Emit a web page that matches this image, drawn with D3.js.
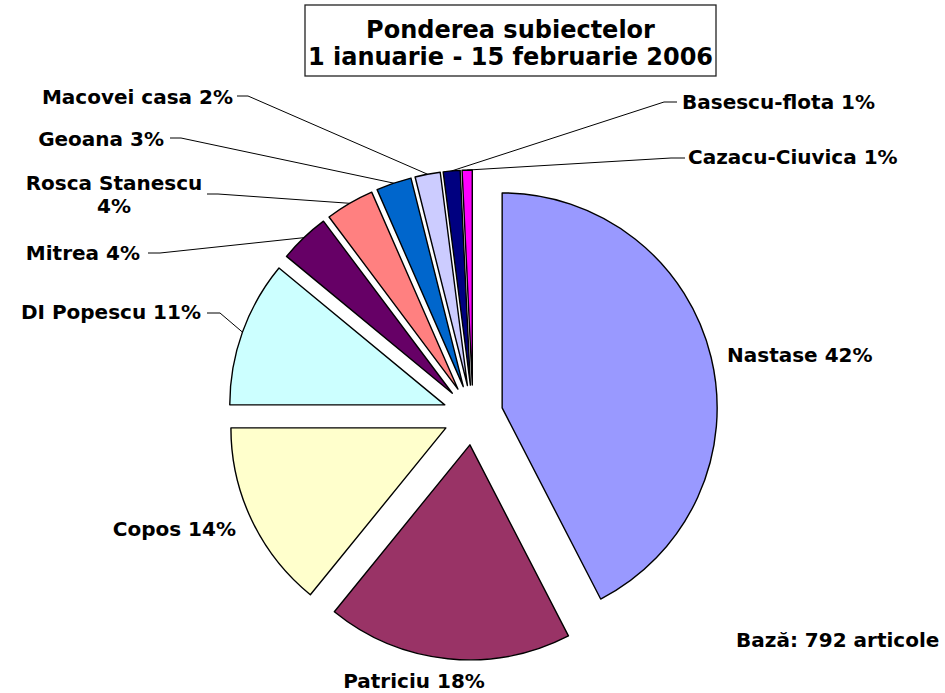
<!DOCTYPE html>
<html>
<head>
<meta charset="utf-8">
<script src="https://cdn.jsdelivr.net/npm/d3@7"></script>
<style>
  body { margin: 0; background: #fff; }
  text { font-family: "DejaVu Sans", Verdana, sans-serif; font-weight: bold; fill: #000; }
</style>
</head>
<body>
<div class="chart"></div>
<script>
// data (articles out of 792)
const names = ["Nastase", "Patriciu", "Copos", "DI Popescu", "Mitrea", "Rosca Stanescu",
               "Geoana", "Macovei casa", "Basescu-flota", "Cazacu-Ciuvica"];
const articles = [336, 146, 112, 87, 30, 29, 21, 15, 10, 6];
const colors = ["#9999FF", "#993366", "#FFFFCC", "#CCFFFF", "#660066", "#FF8080",
                "#0066CC", "#CCCCFF", "#000080", "#FF00FF"];
const titleLines = ["Ponderea subiectelor", "1 ianuarie - 15 februarie 2006"];
const baseNote = "Bază: 792 articole";

// label placement (layout, not data)
const labelLayout = [
  {x: 727, y: 362, anchor: "start"},
  {x: 414, y: 688, anchor: "middle"},
  {x: 236, y: 536, anchor: "end"},
  {x: 201, y: 319, anchor: "end", leader: [207, 313, 220]},
  {x: 140, y: 260, anchor: "end", leader: [148, 253, 160]},
  {x: 114, y: 190, anchor: "middle", wrap: true, leader: [207, 194, 218]},
  {x: 164, y: 146, anchor: "end", leader: [170, 138, 181]},
  {x: 233, y: 104, anchor: "end", leader: [237, 96, 248]},
  {x: 682, y: 109, anchor: "start", leader: [677, 102, 664]},
  {x: 688, y: 164, anchor: "start", leader: [685, 158, 671]}
];

const width = 945, height = 693;
const cx = 473, cy = 415, radius = 215, explode = 30;

const svg = d3.select(".chart").append("svg")
    .attr("width", width)
    .attr("height", height);

const total = d3.sum(articles);
const pct = d3.format(".0%");

const slices = d3.pie().sort(null).value(d => d)(articles)
    .map((d, i) => ({...d, name: names[i], color: colors[i], layout: labelLayout[i]}));

const arc = d3.arc().innerRadius(0).outerRadius(radius);
const offsetArc = d3.arc().innerRadius(explode).outerRadius(explode);
const edgeArc = d3.arc().innerRadius(radius).outerRadius(radius);

const pie = svg.append("g").attr("transform", `translate(${cx},${cy})`);

pie.selectAll("path.slice")
    .data(slices)
    .enter()
    .append("path")
    .attr("class", "slice")
    .attr("transform", d => `translate(${offsetArc.centroid(d)})`)
    .attr("d", arc)
    .attr("fill", d => d.color)
    .attr("stroke", "black")
    .attr("stroke-width", 1.4)
    .attr("stroke-linejoin", "round");

// leader lines for small slices
slices.filter(d => d.layout.leader).forEach(d => {
    const o = offsetArc.centroid(d), e = edgeArc.centroid(d);
    const ex = cx + o[0] + e[0], ey = cy + o[1] + e[1];
    const [x0, y0, x1] = d.layout.leader;
    svg.append("path")
        .attr("d", d3.line()([[x0, y0], [x1, y0], [ex, ey]]))
        .attr("fill", "none")
        .attr("stroke", "black")
        .attr("stroke-width", 1);
});

// labels
slices.forEach(d => {
    const L = d.layout;
    const label = d.name + " " + pct(d.value / total);
    const t = svg.append("text")
        .attr("x", L.x)
        .attr("y", L.y)
        .attr("text-anchor", L.anchor)
        .attr("font-size", 20);
    if (L.wrap) {
        t.append("tspan").attr("x", L.x).text(d.name);
        t.append("tspan").attr("x", L.x).attr("dy", 23.3).text(pct(d.value / total));
    } else {
        t.text(label);
    }
});

// title box
svg.append("rect")
    .attr("x", 305)
    .attr("y", 5)
    .attr("width", 411)
    .attr("height", 71)
    .attr("fill", "white")
    .attr("stroke", "#222")
    .attr("stroke-width", 1.3);

svg.append("text")
    .attr("x", 510.5)
    .attr("y", 38)
    .attr("text-anchor", "middle")
    .attr("font-size", 24)
    .selectAll("tspan")
    .data(titleLines)
    .enter()
    .append("tspan")
    .attr("x", 510.5)
    .attr("dy", (d, i) => i === 0 ? 0 : 26.5)
    .text(d => d);

svg.append("text")
    .attr("x", 736)
    .attr("y", 647)
    .attr("font-size", 20)
    .text(baseNote);
</script>
</body>
</html>
